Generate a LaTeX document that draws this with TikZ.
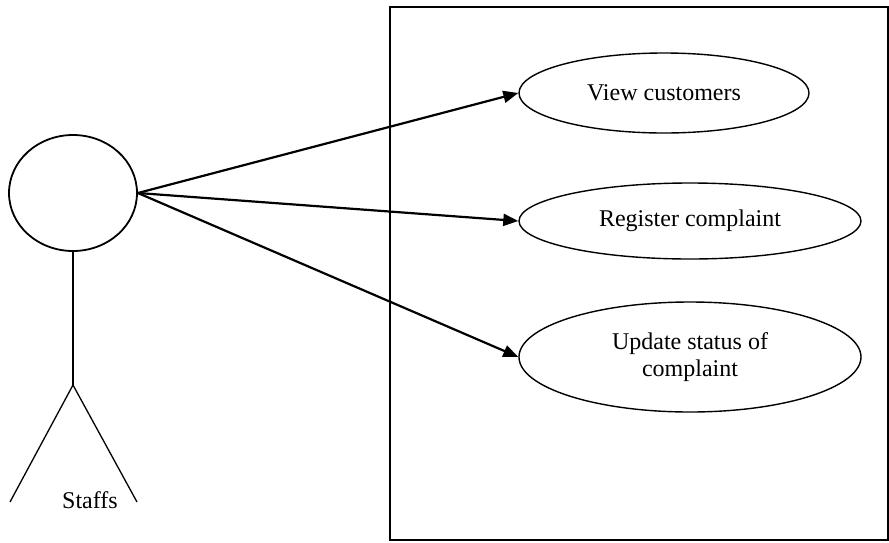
\documentclass[tikz,border=0pt]{standalone}
\usepackage{fontspec}
\setmainfont{Liberation Serif}
\usetikzlibrary{shapes.geometric,arrows.meta}
\begin{document}
\begin{tikzpicture}[x=0.5pt,y=-0.5pt,
  usecase/.style={draw,ellipse,inner sep=0pt,line width=0.7pt,font=\fontsize{12}{13.5}\selectfont,align=center},
  assoc/.style={line width=1.1pt,-{Triangle[length=7.5pt,width=6pt]}},
  limb/.style={line width=0.65pt}]
\useasboundingbox (0,0) rectangle (889,542);
\draw[line width=1pt] (390,7) rectangle (887.5,540);
\node[draw,ellipse,inner sep=0pt,minimum width=64pt,minimum height=58pt,line width=0.9pt] (head) at (73,193) {};
\coordinate (hip) at (73,385);
\coordinate (lfoot) at (10,502);
\coordinate (rfoot) at (137,502);
\draw[limb] (head.south) -- (hip);
\draw[limb] (hip) -- (lfoot);
\draw[limb] (hip) -- (rfoot);
\node[font=\fontsize{12}{13.5}\selectfont] (actor) at (90,500) {Staffs};
\node[usecase,minimum width=145pt,minimum height=40pt] (uc1) at (664,93) {View customers};
\node[usecase,minimum width=171pt,minimum height=38pt] (uc2) at (690,221) {Register complaint};
\node[usecase,minimum width=171pt,minimum height=55pt] (uc3) at (690,357) {Update status of\\complaint};
\draw[assoc] (head.east) -- (uc1.west);
\draw[assoc] (head.east) -- (uc2.west);
\draw[assoc] (head.east) -- (uc3.west);
\end{tikzpicture}
\end{document}
